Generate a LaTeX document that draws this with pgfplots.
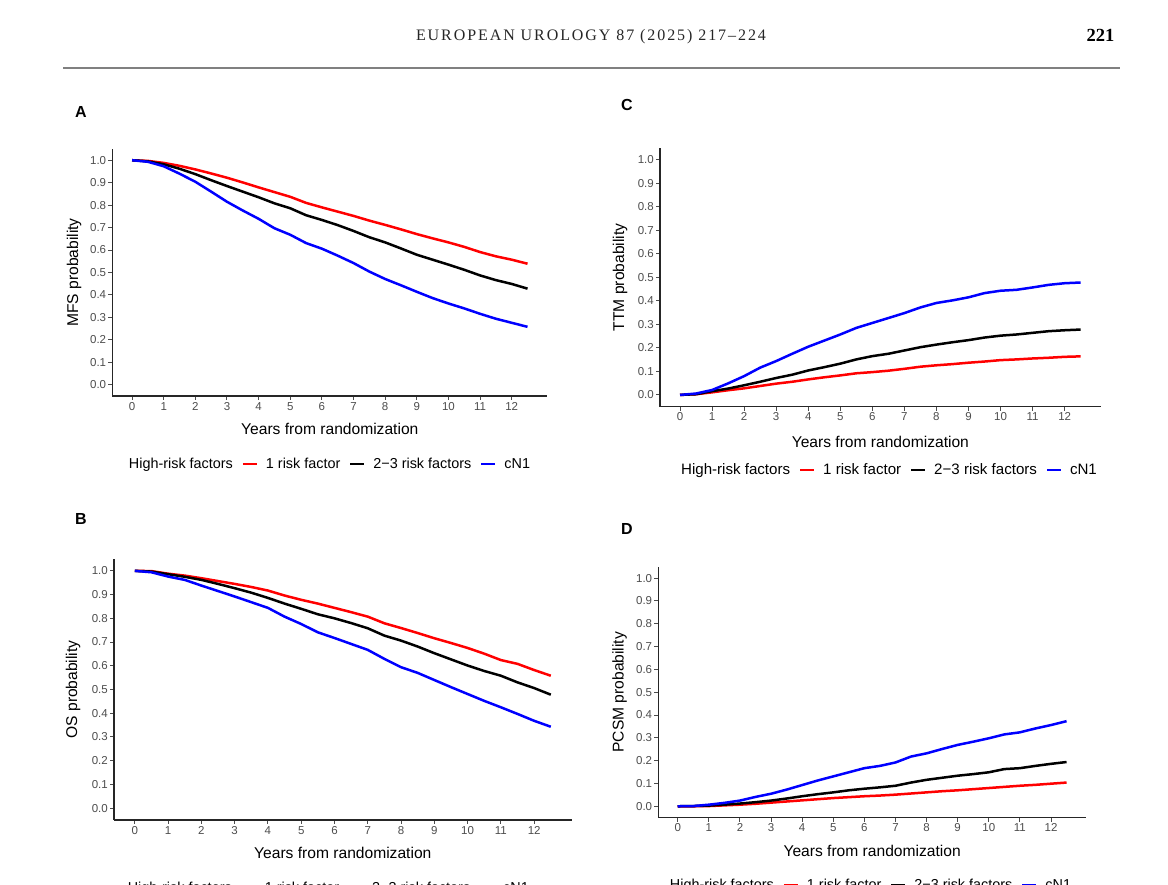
\documentclass[border=0pt]{standalone}
\usepackage{fontspec}
\setmainfont{Liberation Sans}
\newfontfamily\hdrfont[LetterSpace=12]{Liberation Serif}
\newfontfamily\pagefont{Liberation Serif}
\usepackage{pgfplots}
\pgfplotsset{compat=1.18}

\definecolor{ggred}{HTML}{FF0000}
\definecolor{ggblue}{HTML}{0000FF}
\definecolor{tickgray}{HTML}{4D4D4D}

\pgfplotsset{
  km/.style={
    scale only axis,
    axis lines=left,
    axis line style={-, line width=1.2pt, black!85},
    xmin=-0.625, xmax=13.125,
    ymin=-0.05, ymax=1.05,
    xtick={0,1,...,12},
    ytick={0,0.1,...,1.0},
    /pgf/number format/assume math mode=true,
    tick align=outside,
    major tick length=4pt,
    tick style={line width=1pt, black!70},
    ticklabel style={font=\fontsize{11.5}{13}\selectfont, text=tickgray},
    xticklabel style={inner sep=2pt},
    yticklabel style={/pgf/number format/fixed, /pgf/number format/fixed zerofill,
      /pgf/number format/precision=1, inner sep=2pt},
    label style={font=\fontsize{15.6}{18}\selectfont},
    xlabel={Years from randomization},
    legend columns=-1,
    legend style={draw=none, fill=none, anchor=center, inner sep=0pt,
      font=\fontsize{14.4}{16}\selectfont,
      nodes={inner xsep=0pt, inner ysep=1pt}},
    legend image code/.code={
      \path[draw=none, fill=none] (0pt,-1pt) rectangle (33pt,1pt);
      \draw[line width=2.6pt] (10pt,0pt) -- (24pt,0pt);
    },
    every axis plot/.append style={line width=2.5pt, line join=round},
  },
  ylab/.style={ylabel style={at={(axis description cs:#1,0.5)}, anchor=center}},
  xlab/.style={xlabel style={at={(axis description cs:0.5,#1)}, anchor=center}},
  leg/.style 2 args={legend style={at={(axis description cs:#1,#2)}}},
}

\begin{document}
\begin{tikzpicture}
\useasboundingbox (0pt,0pt) rectangle (1168pt,885pt);
\fill[white] (0pt,0pt) rectangle (1168pt,885pt);

% page header
\node[text=black!85] at (591pt,848.8pt) {\hdrfont\fontsize{16}{18}\selectfont EUROPEAN UROLOGY 87 (2025) 217–224};
\node[anchor=east] at (1118pt,849.5pt) {\pagefont\bfseries\fontsize{18.5}{20}\selectfont 221};
\draw[line width=2pt, black!50] (63pt,816.7pt) -- (1120pt,816.7pt);

% panel letters
\node at (81pt,773.3pt) {\bfseries\fontsize{16}{18}\selectfont A};
\node at (627pt,780pt) {\bfseries\fontsize{16}{18}\selectfont C};
\node at (81pt,366pt) {\bfseries\fontsize{16}{18}\selectfont B};
\node at (627pt,356pt) {\bfseries\fontsize{16}{18}\selectfont D};

% ---- A: MFS
\begin{axis}[km, at={(112.3pt,489pt)}, anchor=south west, width=435pt, height=247pt,
  ylabel={MFS probability}, ylab=-0.088, xlab=-0.1336, leg={0.4993}{-0.2753}]
\addlegendimage{empty legend}
\addplot[ggred] coordinates {
(0,1.0)(0.5,0.997)(1,0.988)(1.5,0.975)(2,0.959)(2.5,0.941)(3,0.922)(3.5,0.901)
(4,0.879)(4.5,0.858)(5,0.837)(5.5,0.810)(6,0.790)(6.5,0.771)(7,0.752)(7.5,0.731)
(8,0.712)(8.5,0.692)(9,0.671)(9.5,0.652)(10,0.634)(10.5,0.614)(11,0.591)(11.5,0.572)
(12,0.557)(12.5,0.539)};
\addplot[black] coordinates {
(0,1.0)(0.5,0.995)(1,0.982)(1.5,0.962)(2,0.938)(2.5,0.911)(3,0.885)(3.5,0.860)
(4,0.835)(4.5,0.808)(5,0.786)(5.5,0.755)(6,0.734)(6.5,0.711)(7,0.685)(7.5,0.657)
(8,0.634)(8.5,0.607)(9,0.579)(9.5,0.557)(10,0.535)(10.5,0.512)(11,0.487)(11.5,0.466)
(12,0.449)(12.5,0.428)};
\addplot[ggblue] coordinates {
(0,1.0)(0.5,0.993)(1,0.973)(1.5,0.940)(2,0.904)(2.5,0.860)(3,0.815)(3.5,0.776)
(4,0.739)(4.5,0.697)(5,0.668)(5.5,0.631)(6,0.606)(6.5,0.575)(7,0.542)(7.5,0.504)
(8,0.471)(8.5,0.443)(9,0.414)(9.5,0.386)(10,0.362)(10.5,0.340)(11,0.316)(11.5,0.294)
(12,0.276)(12.5,0.258)};
\legend{High-risk factors, 1 risk factor, 2−3 risk factors, cN1}
\end{axis}

% ---- C: TTM
\begin{axis}[km, at={(660pt,478.3pt)}, anchor=south west, width=440.7pt, height=258.7pt,
  ylabel={TTM probability}, ylab=-0.0908, xlab=-0.1353, leg={0.5196}{-0.2447},
  legend style={font=\fontsize{15.1}{17}\selectfont}]
\addlegendimage{empty legend}
\addplot[ggred] coordinates {
(0,0)(0.5,0.003)(1,0.011)(1.5,0.020)(2,0.028)(2.5,0.038)(3,0.048)(3.5,0.056)
(4,0.066)(4.5,0.075)(5,0.083)(5.5,0.092)(6,0.097)(6.5,0.103)(7,0.111)(7.5,0.120)
(8,0.126)(8.5,0.131)(9,0.137)(9.5,0.142)(10,0.148)(10.5,0.151)(11,0.155)(11.5,0.158)
(12,0.162)(12.5,0.164)};
\addplot[black] coordinates {
(0,0)(0.5,0.003)(1,0.016)(1.5,0.027)(2,0.041)(2.5,0.056)(3,0.072)(3.5,0.086)
(4,0.104)(4.5,0.118)(5,0.133)(5.5,0.151)(6,0.165)(6.5,0.175)(7,0.189)(7.5,0.203)
(8,0.214)(8.5,0.224)(9,0.233)(9.5,0.244)(10,0.252)(10.5,0.257)(11,0.264)(11.5,0.271)
(12,0.275)(12.5,0.278)};
\addplot[ggblue] coordinates {
(0,0)(0.5,0.006)(1,0.021)(1.5,0.049)(2,0.080)(2.5,0.116)(3,0.144)(3.5,0.175)
(4,0.205)(4.5,0.231)(5,0.257)(5.5,0.285)(6,0.306)(6.5,0.327)(7,0.348)(7.5,0.372)
(8,0.391)(8.5,0.402)(9,0.415)(9.5,0.433)(10,0.443)(10.5,0.447)(11,0.457)(11.5,0.468)
(12,0.475)(12.5,0.478)};
\legend{High-risk factors, 1 risk factor, 2−3 risk factors, cN1}
\end{axis}

% ---- B: OS
\begin{axis}[km, at={(114pt,65pt)}, anchor=south west, width=457.6pt, height=261pt,
  ylabel={OS probability}, ylab=-0.0896, xlab=-0.1253, leg={0.4683}{-0.2605}]
\addlegendimage{empty legend}
\addplot[ggred] coordinates {
(0,1.0)(0.5,0.999)(1,0.988)(1.5,0.980)(2,0.969)(2.5,0.957)(3,0.945)(3.5,0.932)
(4,0.917)(4.5,0.896)(5,0.878)(5.5,0.862)(6,0.844)(6.5,0.826)(7,0.807)(7.5,0.779)
(8,0.759)(8.5,0.738)(9,0.716)(9.5,0.696)(10,0.675)(10.5,0.651)(11,0.624)(11.5,0.608)
(12,0.582)(12.5,0.558)};
\addplot[black] coordinates {
(0,1.0)(0.5,0.997)(1,0.986)(1.5,0.975)(2,0.962)(2.5,0.945)(3,0.927)(3.5,0.908)
(4,0.886)(4.5,0.862)(5,0.840)(5.5,0.817)(6,0.800)(6.5,0.780)(7,0.758)(7.5,0.727)
(8,0.706)(8.5,0.681)(9,0.653)(9.5,0.627)(10,0.601)(10.5,0.578)(11,0.558)(11.5,0.530)
(12,0.506)(12.5,0.478)};
\addplot[ggblue] coordinates {
(0,1.0)(0.5,0.994)(1,0.976)(1.5,0.962)(2,0.938)(2.5,0.915)(3,0.892)(3.5,0.868)
(4,0.844)(4.5,0.807)(5,0.776)(5.5,0.741)(6,0.717)(6.5,0.692)(7,0.667)(7.5,0.629)
(8,0.594)(8.5,0.570)(9,0.540)(9.5,0.510)(10,0.481)(10.5,0.452)(11,0.425)(11.5,0.397)
(12,0.368)(12.5,0.343)};
\legend{High-risk factors, 1 risk factor, 2−3 risk factors, cN1}
\end{axis}

% ---- D: PCSM
\begin{axis}[km, at={(658.3pt,67.3pt)}, anchor=south west, width=427.7pt, height=251pt,
  ylabel={PCSM probability}, ylab=-0.0903, xlab=-0.1315, leg={0.4961}{-0.2681}]
\addlegendimage{empty legend}
\addplot[ggred] coordinates {
(0,0)(0.5,0.000)(1,0.001)(1.5,0.004)(2,0.007)(2.5,0.011)(3,0.016)(3.5,0.021)
(4,0.026)(4.5,0.031)(5,0.036)(5.5,0.040)(6,0.044)(6.5,0.047)(7,0.051)(7.5,0.056)
(8,0.061)(8.5,0.066)(9,0.070)(9.5,0.075)(10,0.080)(10.5,0.085)(11,0.090)(11.5,0.094)
(12,0.099)(12.5,0.104)};
\addplot[black] coordinates {
(0,0)(0.5,0.001)(1,0.003)(1.5,0.007)(2,0.012)(2.5,0.018)(3,0.025)(3.5,0.034)
(4,0.044)(4.5,0.053)(5,0.061)(5.5,0.070)(6,0.077)(6.5,0.083)(7,0.090)(7.5,0.104)
(8,0.116)(8.5,0.125)(9,0.134)(9.5,0.141)(10,0.149)(10.5,0.163)(11,0.167)(11.5,0.177)
(12,0.186)(12.5,0.194)};
\addplot[ggblue] coordinates {
(0,0)(0.5,0.001)(1,0.007)(1.5,0.015)(2,0.025)(2.5,0.041)(3,0.055)(3.5,0.073)
(4,0.093)(4.5,0.113)(5,0.131)(5.5,0.149)(6,0.167)(6.5,0.177)(7,0.192)(7.5,0.218)
(8,0.232)(8.5,0.251)(9,0.269)(9.5,0.283)(10,0.298)(10.5,0.315)(11,0.324)(11.5,0.341)
(12,0.356)(12.5,0.373)};
\legend{High-risk factors, 1 risk factor, 2−3 risk factors, cN1}
\end{axis}
\end{tikzpicture}
\end{document}
